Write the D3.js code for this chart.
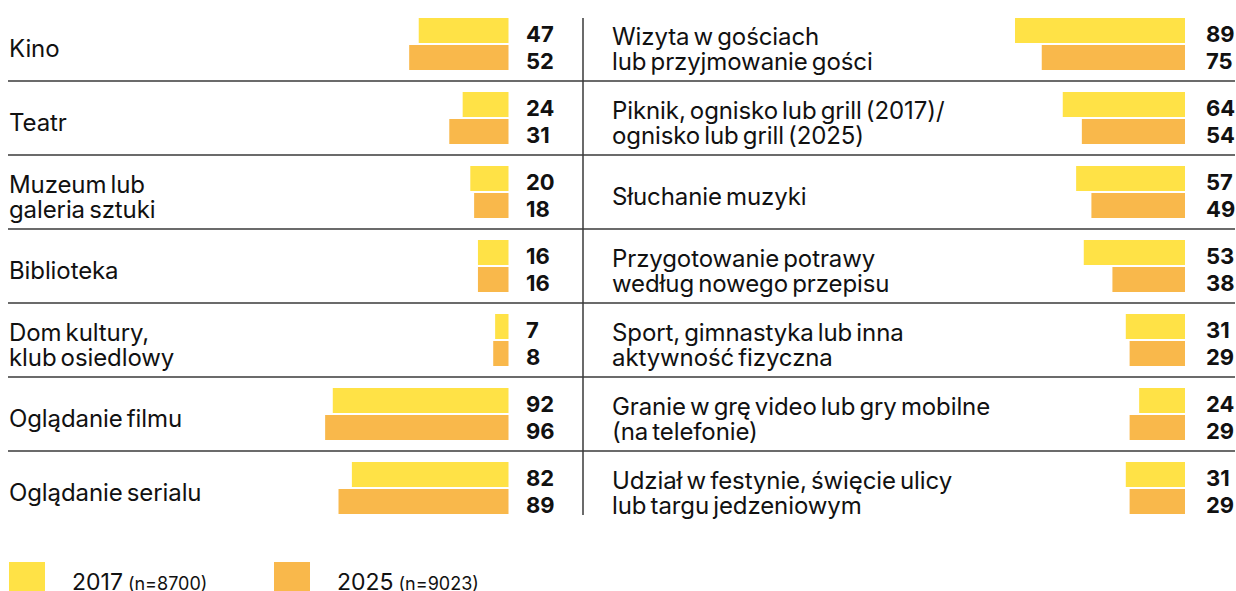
<!DOCTYPE html>
<meta charset="utf-8">
<style>
body { margin: 0; background: #fff; }
text { font-family: Inter, "Noto Sans", sans-serif; fill: #111; }
.label { font-size: 24px; word-spacing: -2.5px; letter-spacing: -0.1px; }
.value { font-size: 22px; font-weight: 700; }
.sep { stroke: #3a3a3a; stroke-width: 1.5px; }
</style>
<svg width="1236" height="591"></svg>
<script src="https://cdn.jsdelivr.net/npm/d3@7"></script>
<script>

var leftLabels = [["Kino"], ["Teatr"], ["Muzeum lub", "galeria sztuki"], ["Biblioteka"],
    ["Dom kultury,", "klub osiedlowy"], ["Oglądanie filmu"], ["Oglądanie serialu"]];
var left2017 = [47, 24, 20, 16, 7, 92, 82];
var left2025 = [52, 31, 18, 16, 8, 96, 89];

var rightLabels = [["Wizyta w gościach", "lub przyjmowanie gości"],
    ["Piknik, ognisko lub grill (2017)/", "ognisko lub grill (2025)"],
    ["Słuchanie muzyki"],
    ["Przygotowanie potrawy", "według nowego przepisu"],
    ["Sport, gimnastyka lub inna", "aktywność fizyczna"],
    ["Granie w grę video lub gry mobilne", "(na telefonie)"],
    ["Udział w festynie, święcie ulicy", "lub targu jedzeniowym"]];
var right2017 = [89, 64, 57, 53, 31, 24, 31];
var right2025 = [75, 54, 49, 38, 29, 29, 29];

var years = ["2017", "2025"];
var samples = ["(n=8700)", "(n=9023)"];
var colors = ["#ffe246", "#f9b84b"];

var svg = d3.select("svg");

var x = d3.scaleLinear().domain([0, 100]).range([0, 191]);
var y = d3.scaleBand().domain(d3.range(7)).range([7, 525]);

// row separators across both columns
svg.append("g").selectAll("line")
    .data(d3.range(6))
    .enter().append("line")
      .attr("class", "sep")
      .attr("x1", 8).attr("x2", 1235)
      .attr("y1", function(i) { return y(i) + y.bandwidth(); })
      .attr("y2", function(i) { return y(i) + y.bandwidth(); });

svg.append("line")
    .attr("class", "sep")
    .attr("x1", 583).attr("x2", 583)
    .attr("y1", 18).attr("y2", 515);

function column(labels, a, b, labelX, barEnd, valueX) {
  var g = svg.append("g");
  var rows = g.selectAll("g.row")
      .data(labels.map(function(l, i) { return {label: l, v: [a[i], b[i]], i: i}; }))
      .enter().append("g")
      .attr("class", "row")
      .attr("transform", function(d) { return "translate(0," + (y(d.i) + y.bandwidth() / 2) + ")"; });

  rows.each(function(d) {
    var r = d3.select(this);
    d.v.forEach(function(v, k) {
      r.append("rect")
          .attr("x", barEnd - x(v))
          .attr("y", k === 0 ? -26 : 1)
          .attr("width", x(v))
          .attr("height", 25)
          .attr("fill", colors[k]);
      r.append("text")
          .attr("class", "value")
          .attr("x", valueX)
          .attr("y", k === 0 ? -2 : 25)
          .text(v);
    });
    var t = r.append("text").attr("class", "label");
    if (d.label.length === 1) {
      t.append("tspan").attr("x", labelX).attr("y", 13).text(d.label[0]);
    } else {
      t.append("tspan").attr("x", labelX).attr("y", 1).text(d.label[0]);
      t.append("tspan").attr("x", labelX).attr("y", 26).text(d.label[1]);
    }
  });
}

column(leftLabels, left2017, left2025, 9, 508.5, 526);
column(rightLabels, right2017, right2025, 612, 1185, 1206);

// legend
var legend = svg.append("g").selectAll("g")
    .data(years)
    .enter().append("g")
      .attr("transform", function(d, i) { return "translate(" + (9 + i * 265) + ",562)"; });

legend.append("rect")
    .attr("width", 36).attr("height", 36)
    .attr("fill", function(d, i) { return colors[i]; });

var lt = legend.append("text")
    .attr("x", 63).attr("y", 28);
lt.append("tspan").style("font-size", "23px").text(function(d) { return d; });
lt.append("tspan").attr("dx", 5).style("font-size", "18px").text(function(d, i) { return samples[i]; });

</script>
